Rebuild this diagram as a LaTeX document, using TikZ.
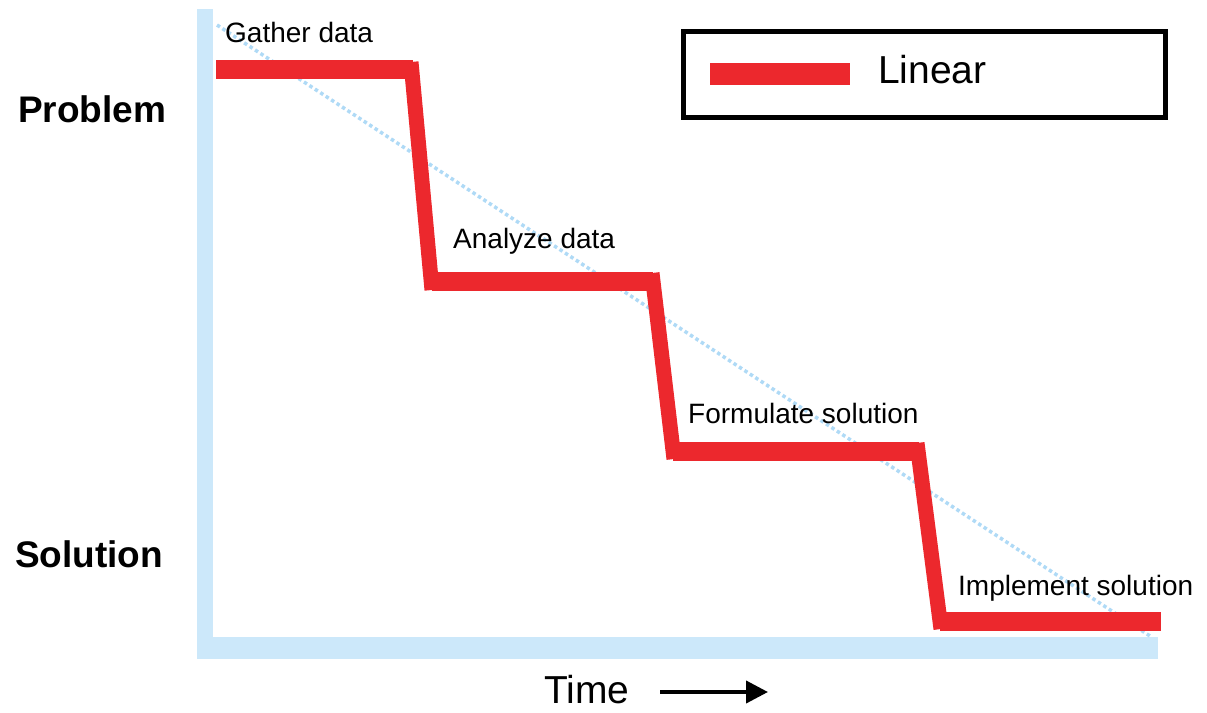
\documentclass[tikz,border=0pt]{standalone}
\usepackage{fontspec}
\setmainfont{Liberation Sans}
\usetikzlibrary{arrows.meta}
\definecolor{axisblue}{RGB}{204,232,250}
\definecolor{dotblue}{RGB}{175,218,246}
\definecolor{stairred}{RGB}{236,40,45}
\tikzset{
  lbl/.style={anchor=base west,inner sep=0pt,font=\fontsize{28}{30}\selectfont},
  biglbl/.style={anchor=base west,inner sep=0pt,font=\fontsize{37}{40}\selectfont\bfseries},
  flat/.style={draw=stairred,line width=19pt,line cap=butt},
  drop/.style={draw=stairred,line width=15pt,line cap=butt},
}
\begin{document}
\begin{tikzpicture}[x=1pt,y=-1pt]
\useasboundingbox (0,0) rectangle (1207,712);
% axes
\fill[axisblue] (197,9) rectangle (213,659);
\fill[axisblue] (197,637) rectangle (1158,659);
% trend line
\draw[dotblue,line width=3.5pt,dash pattern=on 3.5pt off 3pt] (217,25) -- (1150,636);
% staircase
\draw[flat] (216,69) -- (413,69);
\draw[drop] (411,62) -- (432,290);
\draw[flat] (432,281) -- (653,281);
\draw[drop] (652,273) -- (674,459);
\draw[flat] (673,451) -- (919,451);
\draw[drop] (917,443) -- (941,629);
\draw[flat] (940,621) -- (1161,621);
% labels
\node[lbl] (gather) at (225,42) {Gather data};
\node[lbl] (analyze) at (453,248) {Analyze data};
\node[lbl] (formulate) at (688,423) {Formulate solution};
\node[lbl] (implement) at (958,595) {Implement solution};
\node[biglbl] (problem) at (18,122) {Problem};
\node[biglbl] (solution) at (15,567) {Solution};
% time axis label
\node[anchor=base west,inner sep=0pt,font=\fontsize{39}{42}\selectfont] (time) at (544,703) {Time};
\coordinate (tstart) at (660,692);
\coordinate (tend) at (768,692);
\draw[line width=4pt,-{Triangle[length=22pt,width=22pt]}] (tstart) -- (tend);
% legend
\node[draw=black,line width=5pt,minimum width=482pt,minimum height=86pt,inner sep=0pt,anchor=north west] (legend) at (681,29) {};
\fill[stairred] (710,63) rectangle (850,85);
\node[anchor=base west,inner sep=0pt,font=\fontsize{39}{42}\selectfont] (linear) at (878,83) {Linear};
\end{tikzpicture}
\end{document}
